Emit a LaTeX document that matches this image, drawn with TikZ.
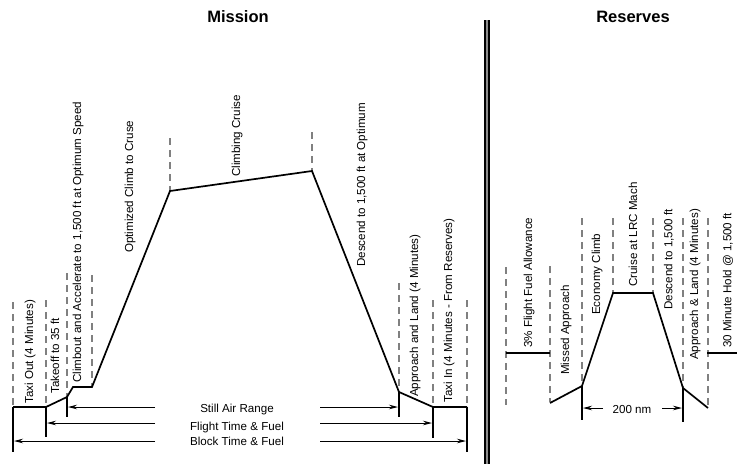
\documentclass[tikz,border=0pt]{standalone}
\usepackage{fontspec}
\setmainfont{Liberation Sans}
\usetikzlibrary{arrows.meta}
\tikzset{
  prof/.style={line width=1.7pt, line join=miter},
  guide/.style={color=black!50, line width=1.4pt, dash pattern=on 7pt off 5pt},
  lbl/.style={rotate=90, anchor=west, inner sep=0pt, font=\fontsize{11.6}{12}\selectfont},
  hlbl/.style={inner sep=0pt, font=\fontsize{11.6}{12}\selectfont},
  ttl/.style={inner sep=0pt, font=\fontsize{16.5}{18}\selectfont\bfseries},
  dim/.style={line width=0.9pt, -{Stealth[length=9pt,width=4.5pt]}}
}
\begin{document}
\begin{tikzpicture}[x=1pt,y=-1pt]
\useasboundingbox[fill=white] (0,0) rectangle (737,464);
% titles
\node[ttl] (tm) at (238,17) {Mission};
\node[ttl] (tr) at (633,17) {Reserves};
% divider
\coordinate (dtop) at (487,20);
\coordinate (dbot) at (487,464);
\draw[line width=5.5pt] (dtop) -- (dbot);
\draw[line width=1.6pt, black!45] (dtop) -- (dbot);

% ===== Mission profile =====
\coordinate (t0) at (13,407);  \coordinate (t0b) at (13,452);  \coordinate (g0) at (13,302);
\coordinate (t1) at (46,407);  \coordinate (t1b) at (46,437);  \coordinate (g1) at (46,300);
\coordinate (t2) at (67,397);  \coordinate (t2b) at (67,417);  \coordinate (g2) at (67,273);
\coordinate (t3) at (73,387);
\coordinate (t4) at (92,387);  \coordinate (g4) at (92,275);
\coordinate (t5) at (170,191); \coordinate (g5) at (170,138);
\coordinate (t6) at (312,171); \coordinate (g6) at (312,132);
\coordinate (t7) at (399,392); \coordinate (t7b) at (399,417); \coordinate (g7) at (399,283);
\coordinate (t8) at (433,407); \coordinate (t8b) at (433,438); \coordinate (g8) at (433,300);
\coordinate (t9) at (467,407); \coordinate (t9b) at (467,452); \coordinate (g9) at (467,300);

\foreach \g/\t in {g0/t0,g1/t1,g2/t2,g4/t4,g5/t5,g6/t6,g7/t7,g8/t8,g9/t9}
  \draw[guide] (\g) -- (\t);

\draw[prof] (t0) -- (t1) -- (t2) -- (t3) -- (t4) -- (t5) -- (t6) -- (t7) -- (t8) -- (t9);
\foreach \a/\b in {t0/t0b,t1/t1b,t2/t2b,t7/t7b,t8/t8b,t9/t9b}
  \draw[prof] (\a) -- (\b);

% range arrows
\coordinate (sL) at (155,407); \coordinate (sR) at (320,407);
\coordinate (fL) at (155,423); \coordinate (fR) at (320,423);
\coordinate (bL) at (155,441); \coordinate (bR) at (320,441);
\coordinate (sLe) at (68,407); \coordinate (sRe) at (398,407);
\coordinate (fLe) at (47,423); \coordinate (fRe) at (432,423);
\coordinate (bLe) at (14,441); \coordinate (bRe) at (466,441);
\draw[dim] (sL) -- (sLe);  \draw[dim] (sR) -- (sRe);
\draw[dim] (fL) -- (fLe);  \draw[dim] (fR) -- (fRe);
\draw[dim] (bL) -- (bLe);  \draw[dim] (bR) -- (bRe);
\node[hlbl] (sar) at (237,409) {Still Air Range};
\node[hlbl] (ftf) at (237,427) {Flight Time \& Fuel};
\node[hlbl] (btf) at (237,441) {Block Time \& Fuel};

% mission labels
\node[lbl] (l1) at (30,404) {Taxi Out (4 Minutes)};
\node[lbl] (l2) at (55,394) {Takeoff to 35 ft};
\node[lbl] (l3) at (78,383) {Climbout and Accelerate to 1,500 ft at Optimum Speed};
\node[lbl] (l4) at (130,253) {Optimized Climb to Cruse};
\node[lbl] (l5) at (237,177) {Climbing Cruise};
\node[lbl] (l6) at (362,267) {Descend to 1,500 ft at Optimum};
\node[lbl] (l7) at (415,397) {Approach and Land (4 Minutes)};
\node[lbl] (l8) at (449,403) {Taxi In (4 Minutes - From Reserves)};

% ===== Reserves profile =====
\coordinate (r0) at (506,353); \coordinate (r1) at (550,353);
\coordinate (gr0t) at (506,267); \coordinate (gr0b) at (506,405);
\coordinate (gr1t) at (550,266); \coordinate (gr1b) at (550,402);
\coordinate (m0) at (550,403);
\coordinate (m1) at (582,386); \coordinate (m1b) at (582,420); \coordinate (h1) at (582,218);
\coordinate (m2) at (613,293); \coordinate (h2) at (613,218);
\coordinate (m3) at (653,293); \coordinate (h3) at (653,218);
\coordinate (m4) at (683,388); \coordinate (m4b) at (683,422); \coordinate (h4) at (683,218);
\coordinate (m5) at (708,408); \coordinate (h5) at (708,218);
\coordinate (r2) at (707,353); \coordinate (r3) at (737,353);

\draw[guide] (gr0t) -- (gr0b);
\draw[guide] (gr1t) -- (gr1b);
\foreach \g/\t in {h1/m1,h2/m2,h3/m3,h4/m4,h5/m5}
  \draw[guide] (\g) -- (\t);

\draw[prof] (r0) -- (r1);
\draw[prof] (r2) -- (r3);
\draw[prof] (m0) -- (m1) -- (m2) -- (m3) -- (m4) -- (m5);
\draw[prof] (m1) -- (m1b);
\draw[prof] (m4) -- (m4b);

\coordinate (nL) at (603,408); \coordinate (nLe) at (583,408);
\coordinate (nR) at (662,408); \coordinate (nRe) at (682,408);
\draw[dim] (nL) -- (nLe);
\draw[dim] (nR) -- (nRe);
\node[hlbl] (nm) at (632,409) {200 nm};

\node[lbl] (q1) at (529,348) {3\% Flight Fuel Allowance};
\node[lbl] (q2) at (566,375) {Missed Approach};
\node[lbl] (q3) at (597,315) {Economy Climb};
\node[lbl] (q4) at (633,287) {Cruise at LRC Mach};
\node[lbl] (q5) at (669,310) {Descend to 1,500 ft};
\node[lbl] (q6) at (695,360) {Approach \& Land (4 Minutes)};
\node[lbl] (q7) at (728,348) {30 Minute Hold @ 1,500 ft};
\end{tikzpicture}
\end{document}
